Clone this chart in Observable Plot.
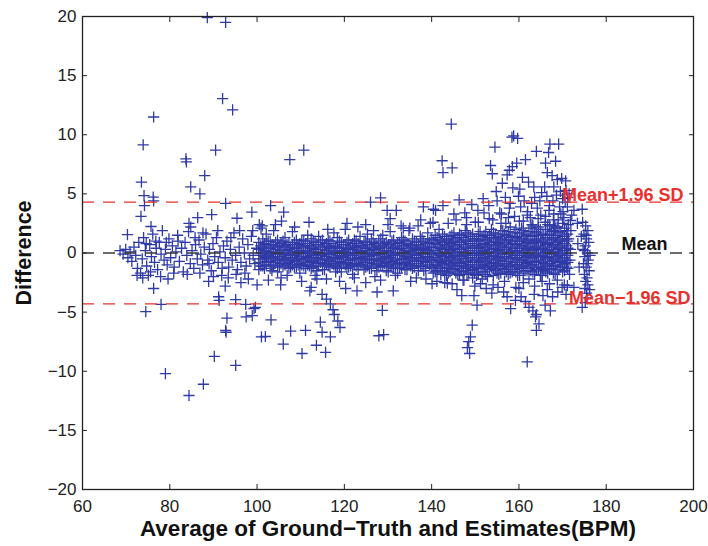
<!DOCTYPE html>
<html><head><meta charset="utf-8">
<script src="https://cdn.jsdelivr.net/npm/d3@7"></script>
<script src="https://cdn.jsdelivr.net/npm/@observablehq/plot@0.6"></script>
<style>body{margin:0;background:#fff}#chart{position:absolute;left:0;top:0}</style>
</head><body><div id="chart"></div>
<script>
// Tick values
const xTicks = [60, 80, 100, 120, 140, 160, 180, 200];
const yTicks = [-20, -15, -10, -5, 0, 5, 10, 15, 20];

// Limits of agreement
const limitValues = [4.3, 0, -4.3];
const limitLabels = ["Mean+1.96 SD", "Mean", "Mean\u22121.96 SD"];

// Outliers above the band [average, difference]
const upperPoints = [
 [88.6,19.9],[92.8,19.5],[92.1,13.05],[94.4,12.1],[76.3,11.5],[73.9,9.15],[90.5,8.7],[83.7,7.96],[83.8,7.7],
 [88.0,6.55],[84.8,5.6],[86.9,5.0],[73.5,6.0],[74.1,4.86],[76.2,4.72],[74.2,4.0],[76.3,4.4],[92.8,4.2],
 [73.4,3.1],[75.7,2.24],[70.3,1.56],[89.6,3.25],[95.4,2.94],[98.8,3.45],[86.4,3.0],[84.4,2.5],[84.8,2.2],[100.5,2.4],
 [107.5,7.9],[110.7,8.7],[103.1,4.0],[106.1,3.45],[105.6,2.7],[101.2,2.3],[126.0,4.3],[128.3,4.66],[129.8,3.6],
 [131.9,3.6],[124.9,2.4],[130.5,2.9],[133.0,2.3],[135.0,2.1],[138.1,3.9],[140.4,3.7],[142.6,4.0],[137.5,2.8],
 [139.7,2.5],[142.4,7.8],[142.6,6.8],[144.5,10.9],[144.7,7.2],
 [158.8,9.9],[159.7,9.7],[158.4,9.8],[154.5,8.95],[164.0,8.6],[167.1,9.2],[169.1,9.2],[166.8,8.5],[153.5,7.4],
 [153.9,6.7],[157.8,7.0],[158.5,7.3],[159.5,7.6],[161.5,7.9],[157.3,6.6],[166.1,7.6],[168.4,7.76],[166.5,6.8],
 [167.6,6.55],[168.8,6.2],[170.7,6.1],[162.2,6.0],[160.2,5.4],[165.9,5.6],[156.9,4.7],[155.0,4.4],[158.0,4.2],
 [160.4,3.9],[163.6,4.7],[164.8,4.4],[162.9,4.2],[140.9,3.6],[171.1,3.9],[172.6,3.6],[174.5,3.7],[170.3,3.0],
 [171.8,2.75],[173.4,2.5],[148.0,3.0],[150.0,2.6],[152.0,3.4],[154.0,2.8],[156.0,3.3],[157.0,2.5],[159.0,3.1],
 [161.0,2.7],[162.0,3.5],[163.0,2.4],[165.0,3.2],[166.0,2.6],[167.0,4.0],[168.0,3.3],[169.0,2.8],[170.0,4.6],
 [169.5,5.2],[168.0,5.6],[171.5,5.0],[170.6,4.3],
 [166.9,3.6],[167.8,4.4],[168.6,4.9],[169.3,3.9],[170.1,3.5],[170.8,5.3],[171.2,4.7],[169.8,6.3],[171.9,1.9],
 [172.1,3.2],[168.2,2.3],[166.4,4.8],[165.2,5.1],[164.2,3.8],[163.4,5.6],[162.6,3.0],[161.2,4.4],[160.8,6.4],
 [159.9,4.8],[158.6,5.5],[157.8,3.8],[156.2,5.9],[155.6,3.4],[154.8,5.2],[153.1,4.0],[151.8,4.6],[150.6,3.6],
 [149.2,4.1],[147.6,3.4],[146.3,4.5],[145.1,3.3]
];

// Outliers below the band [average, difference]
const lowerPoints = [
 [88.9,-2.4],[76.3,-3.0],[79.6,-2.2],[92.7,-2.8],[96.3,-2.5],[100.0,-2.7],[78.0,-4.35],[74.5,-4.95],[91.2,-3.7],
 [91.3,-4.0],[95.1,-3.95],[97.4,-4.35],[97.5,-5.4],[99.3,-4.7],[93.1,-5.5],[92.8,-6.55],[92.9,-6.7],[101.0,-7.1],
 [90.2,-8.75],[95.1,-9.5],[79.0,-10.2],[87.7,-11.1],[84.4,-12.05],
 [105.4,-2.7],[99.6,-4.6],[98.9,-5.3],[103.2,-5.65],[101.9,-7.06],[106.0,-7.7],[107.7,-6.6],[111.1,-6.55],
 [110.3,-8.5],[113.6,-7.8],[115.7,-8.4],[114.5,-5.85],[114.9,-6.7],[116.8,-7.1],[112.4,-2.9],[112.1,-3.2],
 [114.9,-3.5],[115.9,-3.9],[116.8,-4.3],[117.4,-4.8],[117.7,-5.2],[118.5,-5.75],[119.0,-6.3],[120.3,-3.0],
 [122.9,-3.2],[127.5,-3.3],[128.7,-4.85],[127.9,-7.0],[129.0,-6.9],[131.2,-3.2],[143.0,-2.5],[140.1,-2.6],
 [143.6,-2.55],[147.4,-2.3],[151.2,-2.6],[149.7,-3.6],[150.4,-4.4],[149.3,-6.1],[148.9,-7.1],[148.5,-7.5],
 [148.2,-8.0],[148.7,-8.5],[157.3,-3.7],[159.2,-4.0],[158.1,-4.7],[160.5,-3.7],[161.5,-4.1],[162.3,-4.6],
 [163.2,-4.9],[164.0,-5.2],[163.5,-3.5],[165.5,-3.6],[163.8,-5.4],[164.6,-6.0],[164.0,-6.55],[161.9,-9.2],
 [171.1,-2.75],[172.6,-2.9],[174.5,-4.6],
 [145.8,-3.1],[146.9,-3.6],[152.5,-3.0],[153.8,-3.4],[155.2,-2.9],[156.5,-3.3],[160.0,-3.0],[166.5,-3.1],
 [167.7,-3.7],[168.9,-3.3],[169.9,-2.9],[170.8,-3.5],[166.0,-4.4],[167.2,-4.9]
];

// Sparse band at low heart rates [average, difference]
const leftPoints = [
 [68.6,0.2],[69.3,-0.1],[69.9,0.3],[70.4,-0.4],[70.9,0.1],[71.3,-0.7],[71.8,0.5],[72.2,-0.2],[72.6,-1.3],[72.9,0.9],
 [73.3,-1.7],[73.7,-0.5],[74.0,1.3],[74.4,0.2],[74.7,-1.1],[75.1,-1.9],[75.4,0.7],[75.8,-0.3],[76.1,1.6],[76.5,-0.8],
 [76.9,0.4],[77.2,-1.4],[77.6,0.9],[78.0,-0.1],[78.3,1.9],[78.7,-0.6],[79.0,0.3],[79.4,-1.0],[79.8,1.2],[80.2,-0.4],
 [80.6,0.6],[81.0,-1.2],[81.4,0.1],[81.8,1.5],[82.2,-0.7],[82.7,0.4],[83.1,-1.6],[83.5,0.9],[83.9,-0.2],[84.3,1.8],
 [84.7,-0.9],[85.1,0.2],[85.5,-1.3],[85.9,0.7],[86.3,-0.5],[86.7,1.1],[87.1,-0.1],[87.5,-1.0],[87.9,0.5],[88.3,1.6],
 [88.7,-0.6],[89.1,0.3],[89.5,-1.5],[89.9,0.8],[90.3,-0.3],[90.7,1.3],[91.1,-0.8],[91.5,0.1],[91.9,-1.9],[92.3,0.6],
 [92.7,-0.4],[93.1,1.0],[93.5,-1.2],[93.9,0.3],[94.3,-0.6],[94.7,1.7],[95.1,-0.2],[95.5,-1.4],[95.9,0.5],[96.3,-0.8],
 [96.7,1.2],[97.1,0.0],[97.5,-1.1],[97.9,0.7],[98.3,-0.5],[98.7,1.4],[99.1,-0.2],[99.5,-0.9],[99.9,0.4],
 [72.5,-1.9],[73.8,-2.1],[74.6,0.8],[75.6,-1.6],[76.8,1.0],[77.9,-2.0],[79.2,0.9],[80.9,-1.7],[81.9,1.0],[84.0,-1.8],
 [85.8,1.3],[86.9,-1.7],[87.6,1.7],[89.0,-0.9],[90.0,-2.0],[91.0,1.9],[92.0,-1.3],[93.4,-2.1],[94.0,1.3],[95.2,-1.8],
 [96.0,1.9],[97.2,-1.7],[98.0,-2.2],[99.0,1.9]
];

// Dense band: averages and the differences observed at each of them
const bandAvg = [100.4,101.3,102.1,103.0,103.8,104.7,105.5,106.4,107.3,108.1,109.0,109.8,110.7,111.6,112.4,113.3,
 114.1,115.0,115.9,116.7,117.6,118.4,119.3,120.2,121.0,121.9,122.7,123.6,124.5,125.3,126.2,127.0,127.9,128.8,129.6,
 130.5,131.3,132.2,133.1,133.9,134.8,135.6,136.5,137.4,138.2,139.1,139.9,140.8,141.7,142.5,143.4,144.2,145.1,146.0,
 146.8,147.7,148.5,149.4,150.3,151.1,152.0,152.8,153.7,154.6,155.4,156.3,157.1,158.0,158.9,159.7,160.6,161.4,162.3,
 163.2,164.0,164.9,165.7,166.6,167.5,168.3,169.2,170.0,170.9];
const bandDiff = [
 [0.9,0.3,-0.2,-0.8,-1.4],[1.2,0.5,0.0,-0.5,-1.1],[0.7,0.1,-0.4,-1.0,1.6],[1.0,0.4,-0.1,-0.7,-1.3],[0.6,0.0,-0.5,-1.1,1.9],
 [1.1,0.5,-0.1,-0.6,-1.6],[0.8,0.2,-0.3,-0.9,-2.1],[1.3,0.6,0.0,-0.5,-1.0],[0.9,0.3,-0.2,-0.8,-1.3],[0.7,0.1,-0.4,-1.0,1.8],
 [1.1,0.4,-0.1,-0.6,-1.2],[0.8,0.2,-0.3,-0.9,-1.7],[1.0,0.5,0.0,-0.5,-1.1],[0.6,0.1,-0.4,-1.0,1.5],[1.2,0.4,-0.2,-0.7,-1.3],
 [0.9,0.3,-0.2,-0.8,-1.9],[0.7,0.0,-0.5,-1.1,1.4],[1.1,0.5,-0.1,-0.6,-1.4],[0.8,0.2,-0.3,-0.9,-2.2],[1.0,0.4,-0.1,-0.7,-1.2],
 [0.6,0.1,-0.4,-1.0,1.7],[1.3,0.5,0.0,-0.5,-1.3],[0.9,0.2,-0.3,-0.8,-1.6],[0.7,0.1,-0.4,-1.0,2.0],[1.1,0.4,-0.1,-0.6,-1.2],
 [0.8,0.3,-0.2,-0.9,-1.8],[1.0,0.5,0.0,-0.5,-1.1],[1.4,0.6,0.1,-0.4,-1.0],[0.9,0.2,-0.3,-0.8,-1.4],[0.7,0.0,-0.5,-1.1,1.6],
 [1.2,0.5,-0.1,-0.6,-1.3],[0.8,0.3,-0.2,-0.9,-2.0],[1.0,0.4,-0.1,-0.7,-1.2],[1.5,0.6,0.0,-0.5,-1.1],[0.9,0.2,-0.3,-0.8,-1.5],
 [0.7,0.1,-0.4,-1.0,1.8],[1.1,0.5,-0.1,-0.6,-1.3],[0.8,0.3,-0.2,-0.9,-1.7],[1.3,0.4,0.0,-0.5,-1.2],[1.0,0.2,-0.3,-0.8,-1.4],
 [0.7,0.1,-0.4,-1.0,1.9],[1.2,0.5,-0.1,-0.6,-1.3],[0.9,0.3,-0.2,-0.9,-2.1],[1.4,0.6,0.0,-0.5,-1.1],[1.0,0.4,-0.1,-0.7,-1.5],
 [0.8,0.2,-0.3,-0.8,1.7],[1.2,0.5,0.0,-0.6,-1.2],[1.5,0.8,0.2,-0.4,-1.0,-1.6],[1.1,0.5,-0.1,-0.7,-1.3,2.0],
 [1.6,0.9,0.3,-0.3,-0.9,-1.5],[1.2,0.6,0.0,-0.6,-1.2,-1.9],[1.4,0.8,0.2,-0.4,-1.0,-1.6],[1.7,1.0,0.4,-0.2,-0.8,-1.4],
 [1.3,0.7,0.1,-0.5,-1.1,-1.8],[1.5,0.9,0.3,-0.3,-0.9,-1.5],[1.9,1.1,0.5,-0.1,-0.7,-1.3],[1.4,0.8,0.2,-0.4,-1.0,-1.7],
 [1.6,1.0,0.4,-0.2,-0.8,-1.4,-2.1],[1.2,0.6,0.0,-0.6,-1.2,-1.9],[1.8,1.1,0.5,-0.1,-0.7,-1.3],[1.5,0.8,0.2,-0.4,-1.0,-1.6],
 [1.3,0.7,0.1,-0.5,-1.1,-2.0],[2.0,1.2,0.6,0.0,-0.6,-1.2],[1.6,0.9,0.3,-0.3,-0.9,-1.5],[1.4,0.8,0.2,-0.4,-1.0,-1.8],
 [1.9,1.1,0.5,-0.1,-0.7,-1.3],[1.5,0.9,0.3,-0.3,-0.9,-1.6],[2.2,1.3,0.7,0.1,-0.5,-1.1,-1.7],[1.7,1.0,0.4,-0.2,-0.8,-1.4],
 [1.4,0.8,0.2,-0.4,-1.0,-1.9],[2.1,1.2,0.6,0.0,-0.6,-1.2],[1.6,1.0,0.4,-0.2,-0.8,-1.5],[1.8,1.1,0.5,-0.1,-0.7,-1.3,-2.2],
 [2.3,1.4,0.8,0.2,-0.4,-1.0,-1.6],[1.7,1.0,0.4,-0.2,-0.8,-1.4],[2.0,1.2,0.6,0.0,-0.6,-1.2,-1.9],[1.5,0.9,0.3,-0.3,-0.9,-1.5],
 [2.4,1.5,0.8,0.2,-0.4,-1.0,-1.7],[1.8,1.1,0.5,-0.1,-0.7,-1.3],[2.1,1.3,0.7,0.1,-0.5,-1.1,-1.8],[1.7,1.0,0.4,-0.2,-0.8,-1.4],
 [2.5,1.4,0.8,0.2,-0.4,-1.0,-1.6],[1.9,1.2,0.6,0.0,-0.6,-1.2]
];

// Further readings interleaved in the dense band
const bandAvg2 = [100.85,101.7,102.55,103.4,104.25,105.1,105.95,106.85,107.7,108.55,109.4,110.25,111.15,112.0,
 112.85,113.7,114.55,115.45,116.3,117.15,118.0,118.85,119.75,120.6,121.45,122.3,123.15,124.05,124.9,125.75,126.6,
 127.45,128.35,129.2,130.05,130.9,131.75,132.65,133.5,134.35,135.2,136.05,136.95,137.8,138.65,139.5,140.35,141.25,
 142.1,142.95,143.8,144.65,145.55,146.4,147.25,148.1,148.95,149.85,150.7,151.55,152.4,153.25,154.15,155.0,155.85,
 156.7,157.55,158.45,159.3,160.15,161.0,161.85,162.75,163.6,164.45,165.3,166.15,167.05,167.9,168.75,169.6,170.45,171.2];
const bandDiff2 = [
 [0.6,0.0,-0.5,-1.1],[0.8,0.2,-0.3,-0.8,-1.3],[1.0,0.4,-0.2,-0.7],[0.7,0.1,-0.4,-1.0,-1.5],[0.9,0.3,-0.3,-0.8],
 [0.6,0.0,-0.6,-1.2],[1.0,0.5,-0.1,-0.6,-1.1],[0.7,0.2,-0.4,-0.9],[0.5,-0.1,-0.6,-1.2],[0.9,0.4,-0.2,-0.7,-1.2],
 [0.7,0.1,-0.5,-1.0],[1.1,0.6,0.0,-0.5,-1.0],[0.8,0.2,-0.3,-0.8,-1.3],[0.6,0.0,-0.6,-1.1],[1.0,0.4,-0.1,-0.7,-1.2],
 [0.7,0.1,-0.4,-0.9,-1.5],[0.9,0.3,-0.2,-0.8],[0.6,0.0,-0.5,-1.0,-1.4],[1.1,0.5,-0.1,-0.6,-1.1],[0.8,0.2,-0.4,-0.9],
 [0.5,0.0,-0.5,-1.1,-1.6],[1.0,0.4,-0.2,-0.7,-1.2],[0.7,0.1,-0.3,-0.9],[0.9,0.3,-0.2,-0.8,-1.3],[0.6,0.0,-0.6,-1.1],
 [1.1,0.5,0.0,-0.5,-1.0],[0.8,0.2,-0.4,-0.9,-1.4],[0.6,0.1,-0.5,-1.0],[1.0,0.4,-0.1,-0.6,-1.2],[0.7,0.2,-0.3,-0.8,-1.3],
 [0.9,0.3,-0.2,-0.9],[0.6,0.0,-0.5,-1.0,-1.5],[1.2,0.5,-0.1,-0.6,-1.1],[0.8,0.2,-0.4,-0.9],[0.7,0.1,-0.5,-1.1,-1.6],
 [1.0,0.4,-0.2,-0.7,-1.2],[0.6,0.0,-0.6,-1.0],[0.9,0.3,-0.2,-0.8,-1.3],[1.1,0.6,0.0,-0.5,-1.0],[0.8,0.2,-0.3,-0.9,-1.4],
 [0.6,0.1,-0.5,-1.1],[1.0,0.4,-0.1,-0.7,-1.2],[0.7,0.2,-0.4,-0.9,-1.5],[1.2,0.5,0.0,-0.6,-1.1],[0.8,0.3,-0.3,-0.8,-1.3],
 [0.9,0.2,-0.4,-1.0],[1.1,0.5,-0.1,-0.6,-1.2,-1.7],[1.3,0.7,0.0,-0.6,-1.1,-1.5],[1.0,0.4,-0.2,-0.8,-1.3,-1.8],
 [1.4,0.7,0.1,-0.5,-1.0,-1.6],[1.1,0.5,-0.1,-0.7,-1.3,-1.7],[1.5,0.9,0.3,-0.3,-0.9,-1.4],[1.2,0.6,0.0,-0.6,-1.1,-1.7],
 [1.6,0.9,0.3,-0.2,-0.8,-1.3,-1.9],[1.3,0.7,0.1,-0.5,-1.1,-1.6],[1.7,1.0,0.4,-0.2,-0.7,-1.2,-1.8],[1.4,0.8,0.2,-0.4,-1.0,-1.5],
 [1.2,0.6,0.0,-0.6,-1.2,-1.7],[1.6,1.0,0.4,-0.2,-0.8,-1.3,-1.8],[1.4,0.7,0.1,-0.5,-1.0,-1.6],[1.8,1.1,0.5,-0.1,-0.7,-1.2,-1.8],
 [1.5,0.9,0.3,-0.3,-0.9,-1.4],[1.7,1.0,0.4,-0.2,-0.8,-1.3,-1.9],[1.3,0.7,0.1,-0.5,-1.1,-1.7],[1.9,1.2,0.6,0.0,-0.6,-1.1,-1.7],
 [1.6,0.9,0.3,-0.3,-0.9,-1.4],[1.8,1.1,0.5,-0.1,-0.7,-1.2,-1.8],[1.4,0.8,0.2,-0.4,-1.0,-1.6],[2.0,1.3,0.7,0.1,-0.5,-1.0,-1.6],
 [1.7,1.0,0.4,-0.2,-0.8,-1.3,-1.9],[1.9,1.2,0.6,0.0,-0.6,-1.1,-1.7],[1.5,0.9,0.3,-0.3,-0.9,-1.5],[2.1,1.4,0.8,0.2,-0.4,-1.0,-1.5],
 [1.8,1.1,0.5,-0.1,-0.7,-1.2,-1.8],[2.2,1.5,0.9,0.3,-0.3,-0.8,-1.4],[1.6,1.0,0.4,-0.2,-0.8,-1.3,-1.9],[2.0,1.3,0.7,0.1,-0.5,-1.1,-1.6],
 [2.3,1.6,0.9,0.3,-0.3,-0.9,-1.4],[1.9,1.2,0.6,0.0,-0.6,-1.1,-1.7],[2.2,1.5,0.9,0.3,-0.3,-0.8,-1.4],[1.8,1.1,0.5,-0.1,-0.7,-1.2],
 [2.1,1.4,0.8,0.2,-0.4,-0.9,-1.5],[1.6,1.0,0.4,-0.2,-0.8,-1.3]
];

// Scattered points at the edge of the band [average, difference]
const fringePoints = [
 [100.9,2.1],[102.6,-2.3],[104.2,2.4],[106.9,-1.9],[108.6,2.2],[110.2,-2.4],[111.9,2.6],[113.7,-2.2],[116.2,2.0],
 [118.9,-2.4],[120.6,2.5],[122.3,-2.1],[123.1,2.2],[124.9,-2.5],[126.7,1.9],[128.3,-2.3],[130.0,2.4],[131.7,-1.9],
 [133.5,2.1],[135.2,-2.4],[136.9,2.3],[138.7,-2.2],[140.3,2.6],[141.2,-2.4],[143.8,2.5],[144.7,-2.6],[145.6,2.8],
 [147.2,-2.3],[148.0,2.4],[149.9,-2.8],[150.7,2.6],[151.6,-2.2],[153.2,2.9],[154.1,-2.7],[155.9,2.5],[156.7,-2.4],
 [157.6,3.0],[159.3,-2.9],[160.1,2.7],[161.0,-2.5],[161.9,3.2],[163.6,-2.8],[164.4,2.9],[165.3,-2.4],[166.1,3.1],
 [167.0,-2.6],[167.9,2.8],[168.8,-2.3],[169.6,3.3],[170.4,-2.7],[171.3,2.4],[171.6,-1.8],[171.4,1.2],[171.8,0.3],[171.7,-0.6]
];

// Separate column of estimates at the highest rates [average, difference]
const columnPoints = [
 [174.6,2.6],[175.3,2.3],[175.8,1.9],[174.9,1.6],[175.5,1.2],[176.0,0.9],[175.2,0.6],[174.7,0.3],[175.7,0.0],
 [175.1,-0.3],[175.9,-0.6],[174.8,-0.9],[175.4,-1.2],[176.1,-1.5],[175.0,-1.8],[175.6,-2.1],[175.3,-2.4],
 [175.8,-2.7],[175.1,-3.0],[175.5,-3.4],[175.7,-3.8],[175.2,-4.2],[174.3,1.4],[176.3,-0.2],[173.8,-1.2],
 [173.5,0.8],[176.2,-3.1],[175.4,1.5],[175.0,0.2],[175.6,-0.9]
];

const xLabel = "Average of Ground\u2212Truth and Estimates(BPM)";
const yLabel = "Difference";

// Build the table
const points = [];
for (const [a, d] of [...leftPoints, ...upperPoints, ...lowerPoints, ...fringePoints, ...columnPoints]) points.push({avg: a, diff: d});
bandAvg.forEach((a, i) => bandDiff[i].forEach(d => points.push({avg: a, diff: d})));
bandAvg2.forEach((a, i) => bandDiff2[i].forEach(d => points.push({avg: a, diff: d})));
const limits = limitValues.map((v, i) => ({value: v, label: limitLabels[i]}));

const axisColor = "#222";
const red = "#e8302c";
const blank = () => "";
const labelMark = (i, dx, dy, fill) => Plot.text([limits[i]], {x: () => 200, y: "value", text: "label",
  textAnchor: "end", lineAnchor: "bottom", dx, dy, fill, fontWeight: "bold", fontSize: 18});

const chart = Plot.plot({
  width: 708, height: 546,
  marginLeft: 82, marginRight: 15, marginTop: 16, marginBottom: 57,
  style: {fontFamily: "'Liberation Sans', Arial, sans-serif", fontSize: "17px", color: "#222", background: "#fff", overflow: "visible"},
  x: {domain: [60, 200]},
  y: {domain: [-20, 20]},
  marks: [
    Plot.dot(points, {x: "avg", y: "diff", symbol: "plus", r: 3.7, stroke: "#2f3aa6", fill: "none", strokeWidth: 1.3}),
    Plot.ruleY(limits.filter(d => d.value !== 0), {y: "value", stroke: red, strokeWidth: 1.4, strokeDasharray: "12,9"}),
    Plot.ruleY(limits.filter(d => d.value === 0), {y: "value", stroke: "#3a3a3a", strokeWidth: 1.4, strokeDasharray: "12,9"}),
    labelMark(0, -10, -1, red),
    labelMark(1, -26, -3, "#111"),
    labelMark(2, -3, 0, red),
    Plot.frame({stroke: axisColor, strokeWidth: 1.3}),
    Plot.axisX({ticks: xTicks, tickSize: 0, tickPadding: 10, label: null}),
    Plot.axisY({ticks: yTicks, tickSize: 0, tickPadding: 6, label: null}),
    Plot.axisX({anchor: "bottom", ticks: xTicks, tickSize: 5, dy: -5, stroke: axisColor, tickFormat: blank, label: null}),
    Plot.axisX({anchor: "top", ticks: xTicks, tickSize: 5, dy: 5, stroke: axisColor, tickFormat: blank, label: null}),
    Plot.axisY({anchor: "left", ticks: yTicks, tickSize: 5, dx: 5, stroke: axisColor, tickFormat: blank, label: null}),
    Plot.axisY({anchor: "right", ticks: yTicks, tickSize: 5, dx: -5, stroke: axisColor, tickFormat: blank, label: null}),
    Plot.text([xLabel], {frameAnchor: "bottom", dy: 46, lineAnchor: "bottom", textAnchor: "middle", fontWeight: "bold", fontSize: 22.5, fill: "#111"}),
    Plot.text([yLabel], {frameAnchor: "left", dx: -58, rotate: -90, textAnchor: "middle", lineAnchor: "middle", fontWeight: "bold", fontSize: 21.5, fill: "#111"})
  ]
});
document.getElementById("chart").appendChild(chart);
</script>
</body></html>
